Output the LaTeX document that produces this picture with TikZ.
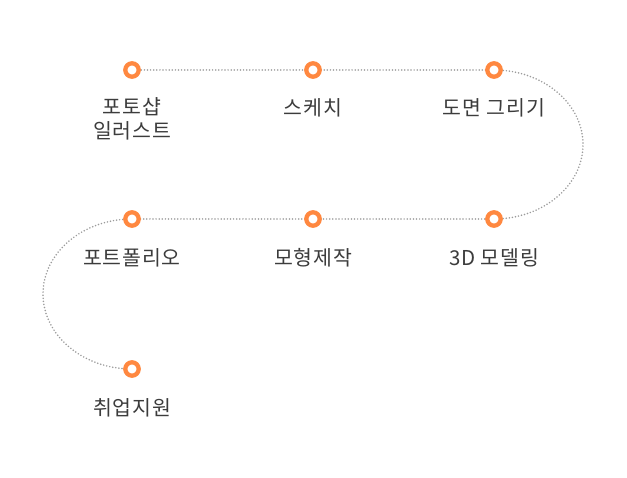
\documentclass[tikz,border=0pt]{standalone}
\usepackage{fontspec}
\setmainfont{Noto Sans CJK KR}[LetterSpace=4]
\definecolor{dotorange}{RGB}{255,136,64}
\definecolor{pathgray}{RGB}{155,155,155}
\definecolor{labelgray}{RGB}{60,60,60}
\begin{document}
\begin{tikzpicture}[x=1pt,y=-1pt,
  stepdot/.style={circle,draw=dotorange,fill=white,line width=4.3pt,minimum size=13.4pt,inner sep=0pt},
  steplabel/.style={text=labelgray,font=\fontsize{20.5}{24}\selectfont,align=center,anchor=center},
  trail/.style={draw=pathgray,line width=1.7pt,line cap=round,dash pattern=on 0pt off 3.1pt}]
\useasboundingbox[fill=white] (0,0) rectangle (627,478);
\coordinate (p1) at (132,70);
\coordinate (p2) at (313,70);
\coordinate (p3) at (494,70);
\coordinate (p4) at (494,219);
\coordinate (p5) at (313,219);
\coordinate (p6) at (132,219);
\coordinate (p7) at (132,369);
\coordinate (rb) at (583,144.5);
\coordinate (lb) at (43,294);
% connectors
\draw[trail] (p1) -- (p2) -- (p3);
\draw[trail] (p3) .. controls +(49,0) and +(0,-41) .. (rb) .. controls +(0,41) and +(49,0) .. (p4);
\draw[trail] (p4) -- (p5) -- (p6);
\draw[trail] (p6) .. controls +(-49,0) and +(0,-41.4) .. (lb) .. controls +(0,41.4) and +(-49,0) .. (p7);
% dots
\foreach \i in {1,...,7} { \node[stepdot] (d\i) at (p\i) {}; }
% labels
\node[steplabel] (l1) at (132,119) {포토샵\\일러스트};
\node[steplabel] (l2) at (313,108) {스케치};
\node[steplabel] (l3) at (494,108) {도면 그리기};
\node[steplabel] (l4) at (494,258) {3D 모델링};
\node[steplabel] (l5) at (313,258) {모형제작};
\node[steplabel] (l6) at (132,258) {포트폴리오};
\node[steplabel] (l7) at (132,408) {취업지원};
\end{tikzpicture}
\end{document}
